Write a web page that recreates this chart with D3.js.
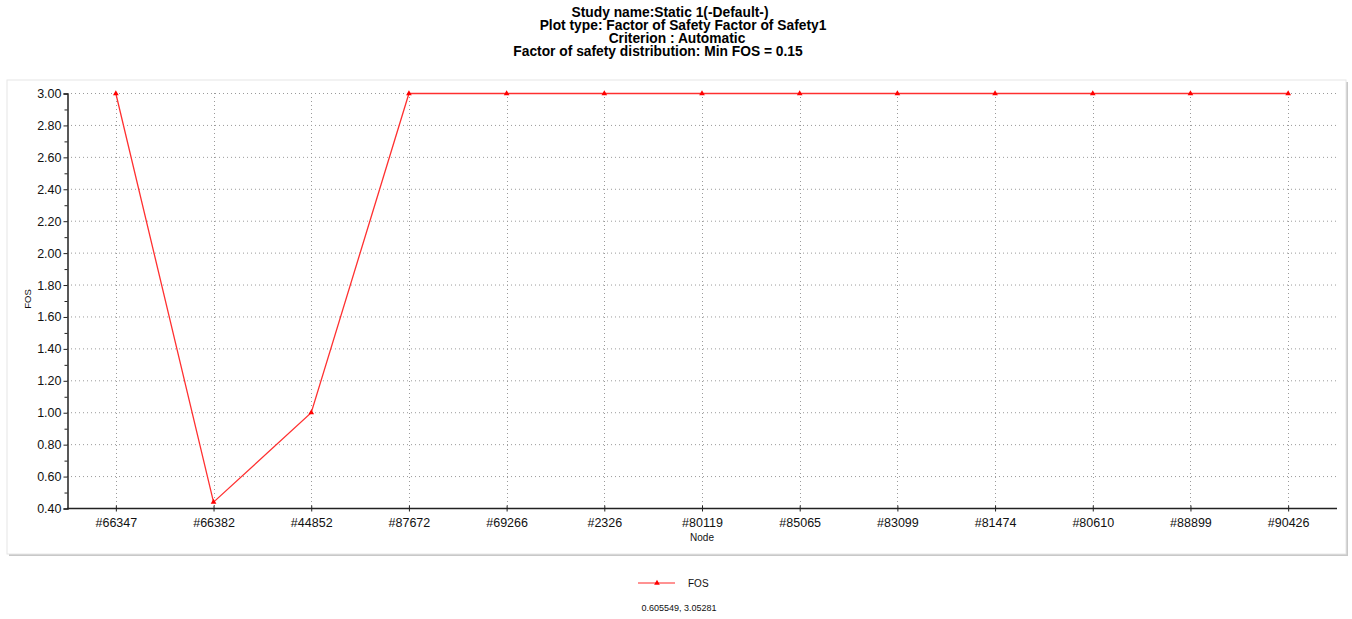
<!DOCTYPE html>
<html>
<head>
<meta charset="utf-8">
<script src="https://cdn.jsdelivr.net/npm/d3@7"></script>
<style>
  html, body { margin: 0; padding: 0; background: #fff; }
  svg { display: block; font-family: "Liberation Sans", Arial, sans-serif; }
</style>
</head>
<body>
<svg id="chart" width="1352" height="619"></svg>
<script>
// Node ids along the path and factor of safety at each node
const nodes = ["#66347", "#66382", "#44852", "#87672", "#69266", "#2326", "#80119",
               "#85065", "#83099", "#81474", "#80610", "#88899", "#90426"];
const fos = [3.00, 0.44, 1.00, 3.00, 3.00, 3.00, 3.00, 3.00, 3.00, 3.00, 3.00, 3.00, 3.00];
const yMajorTicks = [0.4, 0.6, 0.8, 1.0, 1.2, 1.4, 1.6, 1.8, 2.0, 2.2, 2.4, 2.6, 2.8, 3.0];
const yMinorTicks = [0.5, 0.7, 0.9, 1.1, 1.3, 1.5, 1.7, 1.9, 2.1, 2.3, 2.5, 2.7, 2.9];

const titleLines = [
  { text: "Study name:Static 1(-Default-)", cx: 670 },
  { text: "Plot type: Factor of Safety Factor of Safety1", cx: 683 },
  { text: "Criterion : Automatic", cx: 677 },
  { text: "Factor of safety distribution: Min FOS = 0.15", cx: 658 }
];
const cursorReadout = "0.605549, 3.05281";

const svg = d3.select("#chart");
const lineColor = "#ff0000";

// Title block
svg.append("g").selectAll("text").data(titleLines).join("text")
  .attr("x", d => d.cx)
  .attr("y", (d, i) => 17 + i * 13)
  .attr("text-anchor", "middle")
  .attr("font-size", 13.8)
  .attr("font-weight", "bold")
  .attr("fill", "#000")
  .text(d => d.text);

// Plot panel with drop shadow on right/bottom
svg.append("rect").attr("x", 9).attr("y", 82).attr("width", 1339).attr("height", 474).attr("fill", "#c8c8c8");
svg.append("rect").attr("x", 7).attr("y", 80).attr("width", 1339).attr("height", 474)
  .attr("fill", "#fff").attr("stroke", "#e6e6e6").attr("stroke-width", 1);

const x = d3.scalePoint().domain(nodes).range([67, 1337]).padding(0.5);
const y = d3.scaleLinear().domain([0.4, 3.0]).range([508.5, 93.5]);

// Dotted grid
const grid = svg.append("g").attr("stroke", "#9a9a9a").attr("stroke-width", 1)
  .attr("stroke-dasharray", "1,3");
grid.selectAll("line.h").data(yMajorTicks.filter(v => v > 0.4)).join("line")
  .attr("class", "h")
  .attr("x1", 67).attr("x2", 1337)
  .attr("y1", d => y(d)).attr("y2", d => y(d));
grid.selectAll("line.v").data(nodes).join("line")
  .attr("class", "v")
  .attr("x1", d => Math.round(x(d)) + 0.5).attr("x2", d => Math.round(x(d)) + 0.5)
  .attr("y1", 93).attr("y2", 508);

// Y axis with labelled major ticks
const yAxis = d3.axisLeft(y).tickValues(yMajorTicks).tickFormat(d3.format(".2f"))
  .tickSize(4).tickPadding(2);
const gy = svg.append("g").attr("transform", "translate(67.5,0)").call(yAxis);
gy.select(".domain").attr("stroke", "#222").attr("stroke-width", 1.5);
gy.selectAll(".tick line").attr("stroke", "#222");
gy.selectAll(".tick text").attr("font-size", 12.5).attr("fill", "#111")
  .attr("font-family", "'Liberation Sans', Arial, sans-serif");

// Minor ticks
const yMinor = d3.axisLeft(y).tickValues(yMinorTicks).tickFormat("").tickSize(3);
const gym = svg.append("g").attr("transform", "translate(67.5,0)").call(yMinor);
gym.select(".domain").remove();
gym.selectAll(".tick line").attr("stroke", "#222");

// X axis
const xAxis = d3.axisBottom(x).tickSize(3).tickPadding(7);
const gx = svg.append("g").attr("transform", "translate(0,508.5)").call(xAxis);
gx.select(".domain").attr("stroke", "#222").attr("stroke-width", 1.5)
  .attr("d", "M67,0H1337");
gx.selectAll(".tick line").attr("stroke", "#222").attr("y1", -3);
gx.selectAll(".tick text").attr("font-size", 12.5).attr("fill", "#111")
  .attr("font-family", "'Liberation Sans', Arial, sans-serif");

// Axis titles
svg.append("text").attr("x", 702).attr("y", 541).attr("text-anchor", "middle")
  .attr("font-size", 10).attr("fill", "#111").text("Node");
svg.append("text").attr("transform", "translate(31,299) rotate(-90)")
  .attr("text-anchor", "middle").attr("font-size", 9.5).attr("fill", "#111").text("FOS");

// FOS series
const line = d3.line().x((d, i) => x(nodes[i])).y(d => y(d));
svg.append("path").datum(fos).attr("d", line)
  .attr("fill", "none").attr("stroke", "#ff3030").attr("stroke-width", 1.3);
svg.append("g").selectAll("path").data(fos).join("path")
  .attr("transform", (d, i) => `translate(${x(nodes[i])},${y(d)})`)
  .attr("d", d3.symbol(d3.symbolTriangle, 14))
  .attr("fill", lineColor);

// Legend
const leg = svg.append("g").attr("transform", "translate(638,583)");
leg.append("line").attr("x1", 0).attr("x2", 37).attr("y1", 0).attr("y2", 0)
  .attr("stroke", "#ff3030").attr("stroke-width", 1.6).attr("stroke-opacity", 0.7);
leg.append("path").attr("transform", "translate(19,0)")
  .attr("d", d3.symbol(d3.symbolTriangle, 14)).attr("fill", lineColor);
leg.append("text").attr("x", 50).attr("y", 4).attr("font-size", 10).attr("fill", "#111").text("FOS");

// Cursor readout
svg.append("text").attr("x", 679).attr("y", 611).attr("text-anchor", "middle")
  .attr("font-size", 9).attr("fill", "#111").text(cursorReadout);
</script>
</body>
</html>
